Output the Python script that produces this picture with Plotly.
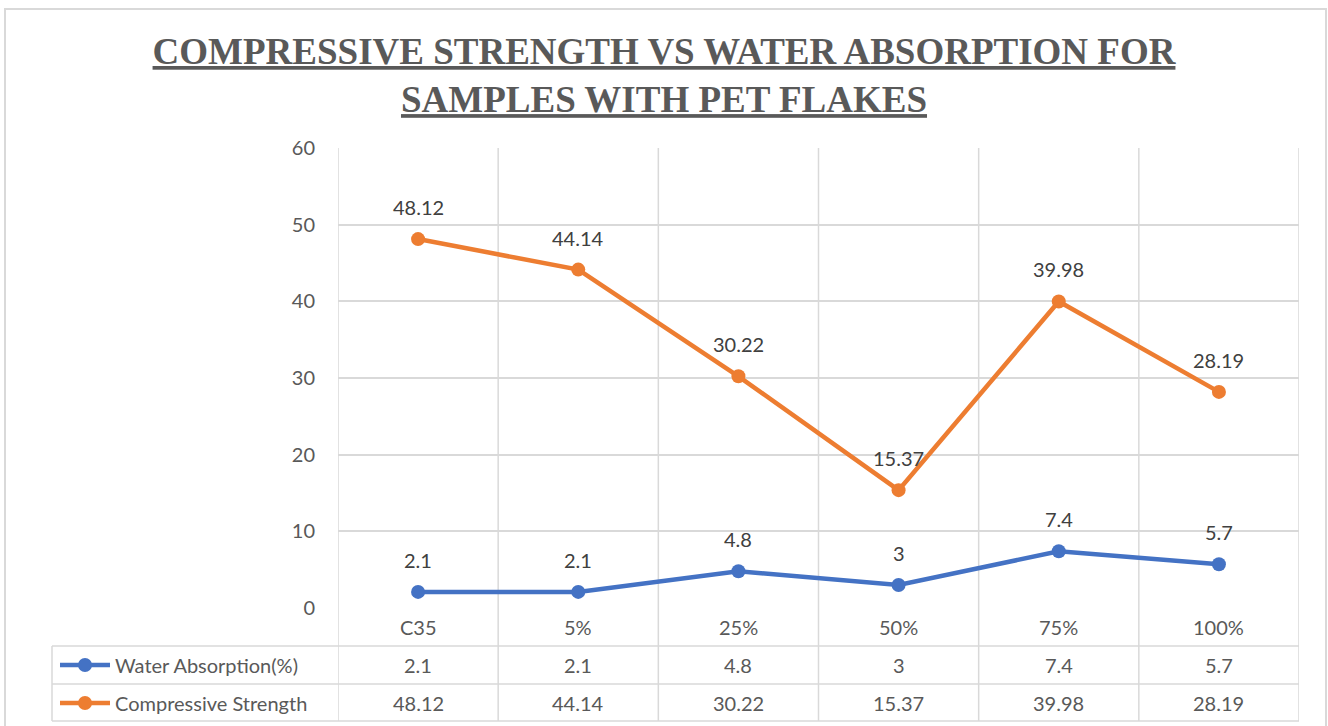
import plotly.graph_objects as go

categories = ["C35", "5%", "25%", "50%", "75%", "100%"]
water_absorption = [2.1, 2.1, 4.8, 3, 7.4, 5.7]
compressive_strength = [48.12, 44.14, 30.22, 15.37, 39.98, 28.19]
y_ticks = [0, 10, 20, 30, 40, 50, 60]

BLUE = "#4472C4"
ORANGE = "#ED7D31"
GRID = "#D9D9D9"
TXT = "#595959"
FONT = "Lato"
FS = 20

W, H = 1328, 726
ML, MR, MT, MB = 338, 29, 148, 118
PW, PH = W - ML - MR, H - MT - MB


def px(xp):
    return (xp - ML) / PW


def py(yp):
    return (H - MB - yp) / PH


x_idx = list(range(len(categories)))
series = [
    ("Water Absorption(%)", water_absorption, BLUE, "legend", 665),
    ("Compressive Strength", compressive_strength, ORANGE, "legend2", 703),
]

fig = go.Figure()
for name, vals, col, leg, _ in series:
    fig.add_trace(go.Scatter(
        x=x_idx, y=vals, name=name, mode="lines+markers",
        line=dict(color=col, width=4.5),
        marker=dict(color=col, size=14),
        legend=leg, cliponaxis=False,
    ))

annotations = []
for name, vals, col, leg, row_y in series:
    for i, v in zip(x_idx, vals):
        # data labels above points
        annotations.append(dict(
            x=i, y=v, xref="x", yref="y", text=f"{v:g}", showarrow=False,
            yshift=32, font=dict(family=FONT, size=FS, color="#404040"),
        ))
        # table values
        annotations.append(dict(
            x=i, y=py(row_y), xref="x", yref="paper", text=f"{v:g}",
            showarrow=False, yanchor="middle",
            font=dict(family=FONT, size=FS, color=TXT),
        ))
# category labels row
for i, c in zip(x_idx, categories):
    annotations.append(dict(
        x=i, y=py(627), xref="x", yref="paper", text=c, showarrow=False,
        yanchor="middle", font=dict(family=FONT, size=FS, color=TXT),
    ))

shapes = []
line_style = dict(color=GRID, width=1.5)
# vertical grid / table column lines
for k in range(len(categories) + 1):
    shapes.append(dict(type="line", xref="x", yref="paper",
                       x0=k - 0.5, x1=k - 0.5, y0=1, y1=py(721),
                       line=line_style, layer="below"))
# table row lines
for yy in [646, 684, 721]:
    shapes.append(dict(type="line", xref="paper", yref="paper",
                       x0=px(52), x1=1, y0=py(yy), y1=py(yy),
                       line=line_style))
shapes.append(dict(type="line", xref="paper", yref="paper",
                   x0=px(52), x1=px(52), y0=py(646), y1=py(721),
                   line=line_style))
# outer chart border
shapes.append(dict(type="rect", xref="paper", yref="paper",
                   x0=px(5), x1=px(1326), y0=py(9), y1=py(740),
                   line=dict(color=GRID, width=2)))

title = ("<b><u>COMPRESSIVE STRENGTH VS WATER ABSORPTION FOR</u></b><br>"
         "<b><u>SAMPLES WITH PET FLAKES</u></b>")

legend_common = dict(
    xanchor="left", yanchor="middle", bgcolor="rgba(0,0,0,0)",
    font=dict(family=FONT, size=FS, color=TXT),
    itemwidth=50, borderwidth=0,
)

fig.update_layout(
    width=W, height=H,
    margin=dict(l=ML, r=MR, t=MT, b=MB, autoexpand=False),
    paper_bgcolor="white", plot_bgcolor="white",
    title=dict(text=title, x=0.5, xanchor="center", y=1 - 64 / H,
               yanchor="bottom",
               font=dict(family="Liberation Serif", size=37, color=TXT)),
    xaxis=dict(range=[-0.5, len(categories) - 0.5], showgrid=False,
               zeroline=False, showticklabels=False, showline=False),
    yaxis=dict(range=[0, 60], tickvals=y_ticks, showgrid=True,
               gridcolor=GRID, gridwidth=1.5, zeroline=False,
               showline=False, ticklabelstandoff=22,
               tickfont=dict(family=FONT, size=FS, color=TXT)),
    legend=dict(x=px(55), y=py(665), **legend_common),
    legend2=dict(x=px(55), y=py(703), **legend_common),
    annotations=annotations,
    shapes=shapes,
    showlegend=True,
)

fig.write_html("out.html", config={"displayModeBar": False},
               post_script="document.body.style.margin='0';")
